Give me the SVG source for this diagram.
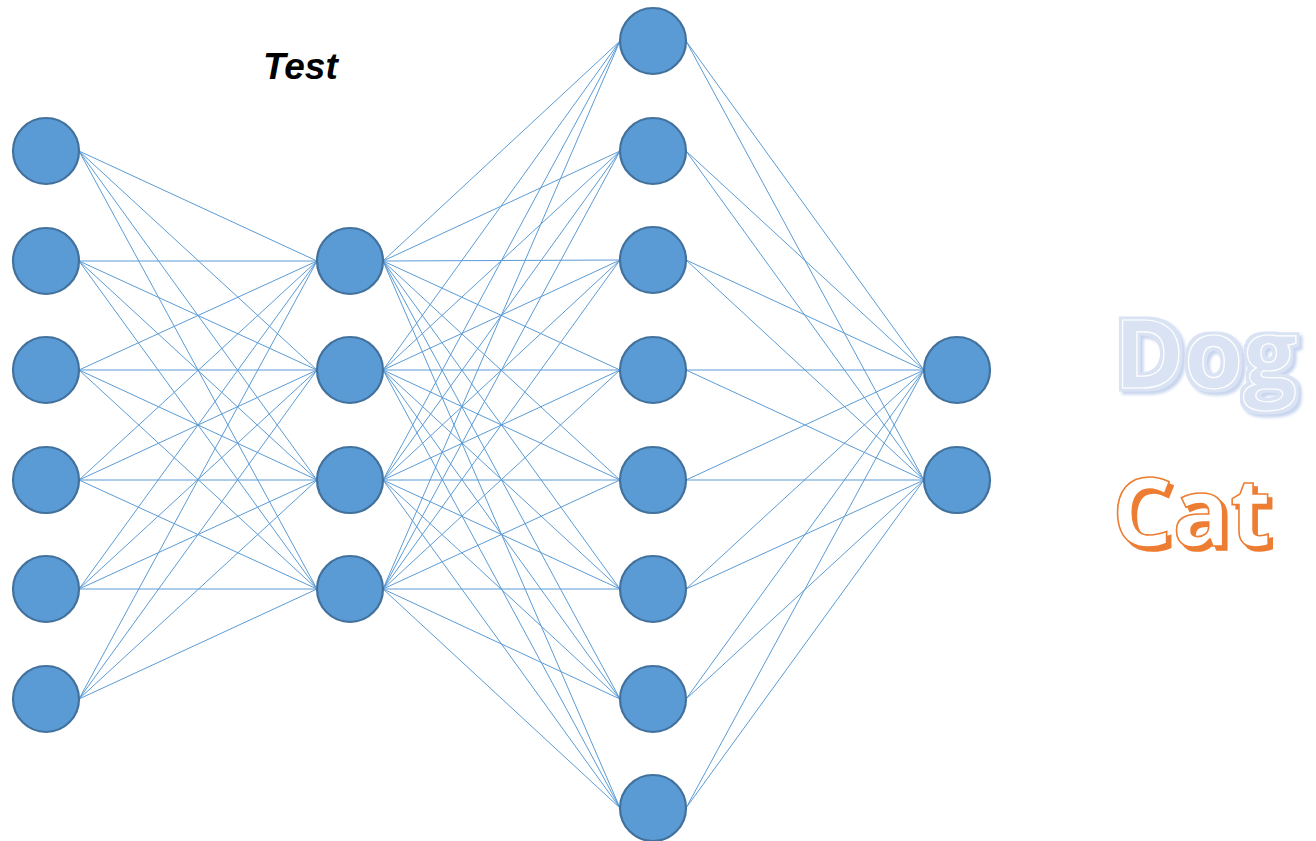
<svg xmlns="http://www.w3.org/2000/svg" width="1316" height="841" viewBox="0 0 1316 841">
  <style>
    .node { fill: #5B9BD5; stroke: #41719C; stroke-width: 2.2; }
    .edge { stroke: #5B9BD5; stroke-width: 1; fill: none; }
    .title { font-family: "Liberation Sans", Arial, sans-serif; font-weight: bold; font-style: italic; font-size: 37px; fill: #000; }
    .big { font-family: "Open Sans", "Liberation Sans", sans-serif; font-weight: bold; }
  </style>
  <defs>
    <!-- pale-blue word: outer band, soft drop shadow, white inline -->
    <filter id="dogFx" x="-10%" y="-20%" width="125%" height="145%">
      <feMorphology in="SourceAlpha" operator="dilate" radius="2.5" result="wide"/>
      <feFlood flood-color="#DAE3F3"/>
      <feComposite in2="wide" operator="in" result="band"/>
      <feOffset in="wide" dx="3" dy="3" result="off"/>
      <feGaussianBlur in="off" stdDeviation="1.5" result="offBlur"/>
      <feFlood flood-color="#C7D4EE"/>
      <feComposite in2="offBlur" operator="in" result="shadow"/>
      <feMerge>
        <feMergeNode in="shadow"/>
        <feMergeNode in="band"/>
        <feMergeNode in="SourceGraphic"/>
      </feMerge>
    </filter>
    <!-- outlined orange word with a solid offset shadow -->
    <filter id="catFx" x="-10%" y="-20%" width="125%" height="145%">
      <feOffset in="SourceAlpha" dx="4" dy="4" result="off"/>
      <feFlood flood-color="#ED7D31"/>
      <feComposite in2="off" operator="in" result="shadow"/>
      <feMerge>
        <feMergeNode in="shadow"/>
        <feMergeNode in="SourceGraphic"/>
      </feMerge>
    </filter>
  </defs>
  <rect width="1316" height="841" fill="#fff"/>

  <!-- connectors: each line runs from the right edge of one node to the left edge of the next -->
  <g id="connectors" class="edge">
    <!-- input layer (x=46) to hidden layer 1 (x=350) -->
    <path d="M79 151L317 261M79 151L317 370M79 151L317 480M79 151L317 589
             M79 261L317 261M79 261L317 370M79 261L317 480M79 261L317 589
             M79 370L317 261M79 370L317 370M79 370L317 480M79 370L317 589
             M79 480L317 261M79 480L317 370M79 480L317 480M79 480L317 589
             M79 589L317 261M79 589L317 370M79 589L317 480M79 589L317 589
             M79 699L317 261M79 699L317 370M79 699L317 480M79 699L317 589"/>
    <!-- hidden layer 1 (x=350) to hidden layer 2 (x=653) -->
    <path d="M383 261L620 41M383 261L620 151M383 261L620 260M383 261L620 370M383 261L620 480M383 261L620 589M383 261L620 699M383 261L620 808
             M383 370L620 41M383 370L620 151M383 370L620 260M383 370L620 370M383 370L620 480M383 370L620 589M383 370L620 699M383 370L620 808
             M383 480L620 41M383 480L620 151M383 480L620 260M383 480L620 370M383 480L620 480M383 480L620 589M383 480L620 699M383 480L620 808
             M383 589L620 41M383 589L620 151M383 589L620 260M383 589L620 370M383 589L620 480M383 589L620 589M383 589L620 699M383 589L620 808"/>
    <!-- hidden layer 2 (x=653) to output layer (x=957) -->
    <path d="M686 41L924 370M686 41L924 480
             M686 151L924 370M686 151L924 480
             M686 260L924 370M686 260L924 480
             M686 370L924 370M686 370L924 480
             M686 480L924 370M686 480L924 480
             M686 589L924 370M686 589L924 480
             M686 699L924 370M686 699L924 480
             M686 808L924 370M686 808L924 480"/>
  </g>

  <!-- input layer -->
  <g id="in1"><circle class="node" cx="46" cy="151" r="33"/></g>
  <g id="in2"><circle class="node" cx="46" cy="261" r="33"/></g>
  <g id="in3"><circle class="node" cx="46" cy="370" r="33"/></g>
  <g id="in4"><circle class="node" cx="46" cy="480" r="33"/></g>
  <g id="in5"><circle class="node" cx="46" cy="589" r="33"/></g>
  <g id="in6"><circle class="node" cx="46" cy="699" r="33"/></g>

  <!-- hidden layer 1 -->
  <g id="h1a"><circle class="node" cx="350" cy="261" r="33"/></g>
  <g id="h1b"><circle class="node" cx="350" cy="370" r="33"/></g>
  <g id="h1c"><circle class="node" cx="350" cy="480" r="33"/></g>
  <g id="h1d"><circle class="node" cx="350" cy="589" r="33"/></g>

  <!-- hidden layer 2 -->
  <g id="h2a"><circle class="node" cx="653" cy="41" r="33"/></g>
  <g id="h2b"><circle class="node" cx="653" cy="151" r="33"/></g>
  <g id="h2c"><circle class="node" cx="653" cy="260" r="33"/></g>
  <g id="h2d"><circle class="node" cx="653" cy="370" r="33"/></g>
  <g id="h2e"><circle class="node" cx="653" cy="480" r="33"/></g>
  <g id="h2f"><circle class="node" cx="653" cy="589" r="33"/></g>
  <g id="h2g"><circle class="node" cx="653" cy="699" r="33"/></g>
  <g id="h2h"><circle class="node" cx="653" cy="808" r="33"/></g>

  <!-- output layer -->
  <g id="out1"><circle class="node" cx="957" cy="370" r="33"/></g>
  <g id="out2"><circle class="node" cx="957" cy="480" r="33"/></g>

  <!-- title -->
  <g id="title"><text class="title" x="263" y="79">Test</text></g>

  <!-- class labels -->
  <g id="label-dog">
    <text class="big" x="1114" y="388" font-size="95" fill="#DAE3F3" stroke="#fff" stroke-width="1.2" filter="url(#dogFx)">Dog</text>
  </g>
  <g id="label-cat">
    <text class="big" x="1112" y="546" font-size="95" fill="#fff" stroke="#ED7D31" stroke-width="1.6" filter="url(#catFx)">Cat</text>
  </g>
</svg>
